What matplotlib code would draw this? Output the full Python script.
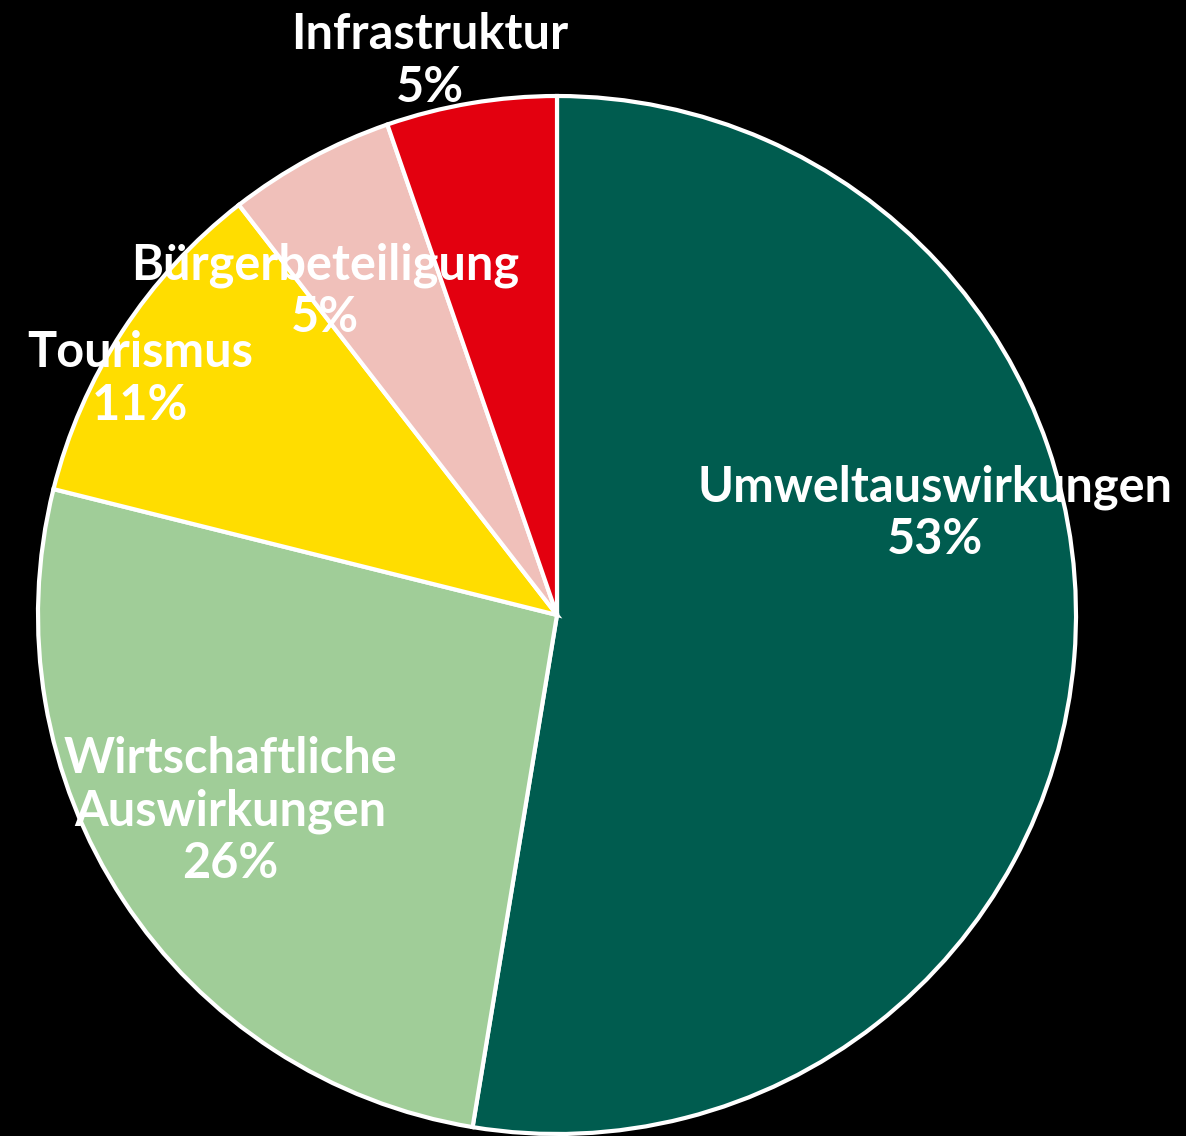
import matplotlib.pyplot as plt

categories = ["Umweltauswirkungen", "Wirtschaftliche\nAuswirkungen", "Tourismus",
              "Bürgerbeteiligung", "Infrastruktur"]
shares = [52.6, 26.3, 10.6, 5.2, 5.3]
percent_labels = ["53%", "26%", "11%", "5%", "5%"]
colors = ["#005c4f", "#a0cd98", "#ffdd00", "#f0c0ba", "#e3000f"]

# label anchor points in pixel coords (x, y from top)
label_pos = [(935, 513), (230, 811), (140, 379), (325, 291), (430, 61)]

W, H = 1186, 1136
fig = plt.figure(figsize=(W / 100, H / 100), dpi=100, facecolor="black")
ax = fig.add_axes([0, 0, 1, 1])
ax.set_facecolor("black")

ax.pie(
    shares, colors=colors, startangle=90, counterclock=False,
    center=(557, H - 615), radius=519,
    wedgeprops=dict(edgecolor="white", linewidth=3),
)

for name, pct, (x, y) in zip(categories, percent_labels, label_pos):
    ax.text(
        x, H - y, name + "\n" + pct, ha="center", va="center",
        color="white", fontsize=35, fontweight="bold", family="Lato",
        linespacing=1.2,
    )

ax.set_xlim(0, W)
ax.set_ylim(0, H)
ax.set_aspect("equal")
ax.set_axis_off()
fig.savefig("out.png", dpi=100, facecolor="black")
